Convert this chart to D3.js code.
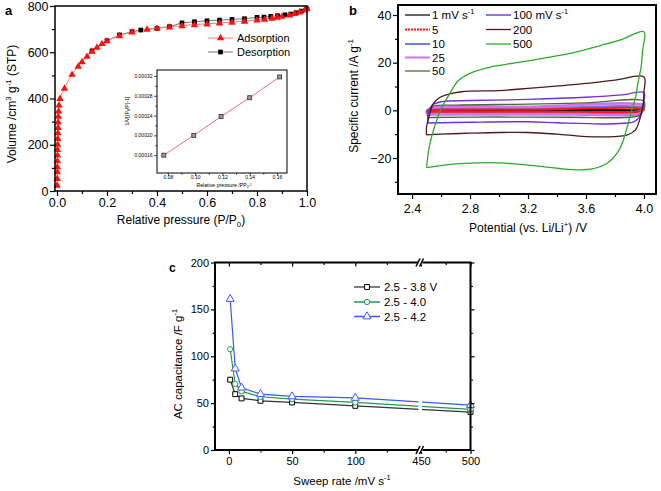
<!DOCTYPE html>
<html><head><meta charset="utf-8">
<script src="https://cdn.jsdelivr.net/npm/d3@7"></script>
<style>body{margin:0;background:#fff} svg{display:block}</style>
</head><body><svg id="c" width="661" height="491"></svg>
<script>
// ---------- Panel a data ----------
const adsP = [0.0005,0.0008,0.001,0.0012,0.0015,0.0018,0.002,0.0025,0.003,0.0035,0.004,0.0045,0.005,0.006,0.008,0.012,0.03,0.06,0.085,0.1,0.12,0.14,0.16,0.18,0.2,0.25,0.3,0.36,0.4,0.45,0.5,0.55,0.6,0.65,0.7,0.75,0.8,0.83,0.86,0.88,0.9,0.93,0.95,0.97,0.99,1.0];
const adsV = [26,55,84,105,131,156,180,203,228,252,275,299,324,347,372,401,445,505,540,560,583,605,622,638,650,672,688,700,705,710,715,720,723,727,730,735,740,743,748,752,756,762,768,775,783,790];
const desP = [1.0,0.978,0.958,0.935,0.912,0.882,0.855,0.828,0.8,0.75,0.7,0.65,0.6,0.55,0.5,0.45,0.4,0.335,0.3,0.25,0.2,0.14];
const desV = [788,778,771,765,762,758,755,752,751,745,742,739,736,732,727,711,703,696,689,675,650,606];
const insetX = [0.077,0.099,0.119,0.140,0.162];
const insetY = [0.000160,0.000200,0.000238,0.000276,0.000318];
const aXTicks = [0,0.2,0.4,0.6,0.8,1.0];
const aYTicks = [0,200,400,600,800];
const insetXTicks = [0.08,0.10,0.12,0.14,0.16];
const insetYTicks = [0.00016,0.00020,0.00024,0.00028,0.00032];

// ---------- Panel b data (potential V, current A/g) ----------
const cvLabels = ["1","5","10","25","50","100","200","500"];
const cv1 = [[2.5,-0.15],[2.51,0.1],[2.6,0.12],[3.2,0.15],[4.0,0.2],[3.99,-0.1],[3.9,-0.15],[3.2,-0.15],[2.5,-0.15]];
const cv5 = [[2.5,-0.6],[2.51,0.1],[2.56,0.3],[3.2,0.35],[4.0,0.5],[3.99,-0.1],[3.95,-0.55],[3.5,-0.6],[2.5,-0.6]];
const cv10 = [[2.5,-0.9],[2.51,0.3],[2.56,0.65],[3.2,0.75],[4.0,1.05],[3.99,0.2],[3.95,-0.8],[3.5,-0.9],[2.5,-0.9]];
const cv25 = [[2.5,-1.7],[2.51,0],[2.56,1.2],[3.2,1.45],[4.0,2.0],[3.995,0.5],[3.96,-1.4],[3.5,-1.7],[2.5,-1.7]];
const cv50 = [[2.51,-3],[2.515,0],[2.55,1.8],[2.7,2.2],[3.2,2.6],[3.6,3.1],[4.0,3.8],[4.0,1],[3.97,-2],[3.9,-2.9],[3.5,-2.9],[3.0,-2.8],[2.51,-3]];
const cv100 = [[2.51,-5.3],[2.51,-1],[2.54,2.2],[2.6,3.6],[2.8,4.1],[3.2,4.6],[3.6,5.5],[3.85,6.5],[4.0,7.5],[4.0,4],[3.995,1.5],[3.97,-2.7],[3.93,-4.8],[3.86,-5.4],[3.7,-5.7],[3.4,-5.2],[3.2,-4.8],[2.8,-5],[2.51,-5.3]];
const cv200 = [[2.5,-10.3],[2.5,-7],[2.52,-2],[2.54,2.2],[2.58,5],[2.63,6.4],[2.74,7.8],[3.0,8.3],[3.2,9.2],[3.6,11.3],[3.8,12.7],[4.0,14],[4.0,8],[3.995,3],[3.97,-4],[3.94,-8.3],[3.88,-10.4],[3.8,-11],[3.6,-11],[3.4,-10],[3.2,-9.3],[3.0,-9.3],[2.8,-9.6],[2.6,-10],[2.5,-10.3]];
const cv500 = [[2.5,-24],[2.52,-15],[2.56,-6],[2.6,0.5],[2.65,6],[2.72,12.5],[2.8,15.5],[2.95,18.3],[3.1,19.8],[3.3,21.8],[3.5,24],[3.7,27.2],[3.85,29.8],[4.0,33],[3.99,25],[3.98,18],[3.96,12],[3.94,5],[3.91,-1],[3.88,-8],[3.83,-16.5],[3.75,-22],[3.65,-24.5],[3.55,-25],[3.4,-24.3],[3.2,-23],[3.0,-22],[2.85,-22],[2.7,-22.5],[2.6,-23.2],[2.5,-24]];
const bXTicks = [2.4,2.8,3.2,3.6,4.0];
const bYTicks = [-20,0,20,40];

// ---------- Panel c data ----------
const rates = [1,5,10,25,50,100,500];
const cap38 = [75,59.6,55,52.5,50.7,47.1,40.5];
const cap40 = [107.5,70.4,62.5,56.8,54.3,50.7,43.3];
const cap42 = [161,86.8,66.4,59.6,57.1,55.5,47.9];
const cLabels = ["2.5 - 3.8 V","2.5 - 4.0","2.5 - 4.2"];
const cXTicks = [0,50,100,450,500];
const cYTicks = [0,50,100,150,200];

const FONT = "'Liberation Sans', Arial, sans-serif";
const svg = d3.select("#c").attr("font-family", FONT);

function styleAxis(ga, fs, sw){
  ga.attr("font-family", FONT).attr("font-size", fs);
  ga.select(".domain").remove();
  ga.selectAll("line").attr("stroke","#000").attr("stroke-width", sw);
  ga.selectAll("text").attr("fill","#000");
}
function axisPair(gen, scale, majors, minors, fmt, size, pad, fs, sw, tr){
  const g1 = svg.append("g").attr("transform", tr)
    .call(gen(scale).tickValues(majors).tickFormat(fmt).tickSize(size).tickSizeOuter(0).tickPadding(pad));
  styleAxis(g1, fs, sw);
  if (minors && minors.length){
    const g2 = svg.append("g").attr("transform", tr)
      .call(gen(scale).tickValues(minors).tickFormat("").tickSize(size*0.6).tickSizeOuter(0));
    styleAxis(g2, fs, sw);
  }
  return g1;
}
function rich(sel, parts, fs){
  parts.forEach(([t, m]) => {
    const ts = sel.append("tspan").text(t);
    if (m === 'sup') ts.attr("font-size", fs*0.65).attr("dy", -fs*0.4);
    else if (m === 'sub') ts.attr("font-size", fs*0.65).attr("dy", fs*0.25);
    else ts.attr("dy", 0);
  });
  let off = 0;
  sel.selectAll("tspan").each(function(){
    const m = d3.select(this);
    const dy = +m.attr("dy");
    if (dy === 0 && off !== 0){ m.attr("dy", -off); off = 0; }
    else off += dy;
  });
}
function frame(x0,y0,x1,y1,w){
  svg.append("rect").attr("x",x0).attr("y",y0).attr("width",x1-x0).attr("height",y1-y0)
    .attr("fill","none").attr("stroke","#000").attr("stroke-width",w);
}
const triSym = d3.symbol().type(d3.symbolTriangle);
const sqSym = d3.symbol().type(d3.symbolSquare);
const cirSym = d3.symbol().type(d3.symbolCircle);

// ================= Panel a =================
{
  const L=55,R=307,T=6,B=191;
  const x = d3.scaleLinear().domain([-0.008,1.0]).range([L,R]);
  const y = d3.scaleLinear().domain([0,800]).range([B,T]);
  const ads = adsP.map((p,i)=>[p,adsV[i]]);
  const des = desP.map((p,i)=>[p,desV[i]]);
  const line = d3.line().x(d=>x(d[0])).y(d=>y(d[1]));
  svg.append("path").attr("d",line(des)).attr("fill","none").attr("stroke","#777").attr("stroke-width",1);
  svg.append("path").attr("d",line(ads)).attr("fill","none").attr("stroke","#ff7a7a").attr("stroke-width",1);
  svg.append("g").selectAll("path").data(des).join("path")
    .attr("d",sqSym.size(22)()).attr("transform",d=>`translate(${x(d[0])},${y(d[1])})`).attr("fill","#000");
  svg.append("g").selectAll("path").data(ads).join("path")
    .attr("d",triSym.size(24)()).attr("transform",d=>`translate(${x(d[0])},${y(d[1])+0.5})`).attr("fill","#ff1010");
  frame(L,T,R,B,1.5);
  axisPair(d3.axisBottom, x, aXTicks, [0.1,0.3,0.5,0.7,0.9], d3.format(".1f"), 5, 2, 12.5, 1.2, `translate(0,${B})`);
  axisPair(d3.axisLeft, y, aYTicks, [100,300,500,700], d3.format("d"), 5, 1.5, 12.5, 1.2, `translate(${L},0)`);
  const xt = svg.append("text").attr("x",181).attr("y",224).attr("text-anchor","middle").attr("font-size",12);
  rich(xt, [["Relative pressure (P/P",null],["0",'sub'],[")",null]], 12);
  const yt = svg.append("text").attr("transform","translate(16,104) rotate(-90)").attr("text-anchor","middle").attr("font-size",12);
  rich(yt, [["Volume /cm",null],["3",'sup'],[" g",null],["-1",'sup'],[" (STP)",null]], 12);
  svg.append("text").attr("x",5).attr("y",15).attr("font-size",13).attr("font-weight","bold").text("a");
  const lg = [["Adsorption",38,"#ff7a7a","#ff1010",triSym],["Desorption",52,"#777","#000",sqSym]];
  lg.forEach(([t,yy,lc,mc,sym])=>{
    svg.append("line").attr("x1",208).attr("x2",233).attr("y1",yy).attr("y2",yy).attr("stroke",lc).attr("stroke-width",1);
    svg.append("path").attr("d",sym.size(sym===triSym?24:22)()).attr("transform",`translate(220.5,${yy})`).attr("fill",mc);
    svg.append("text").attr("x",237).attr("y",yy+4).attr("font-size",11).text(t);
  });
  // inset
  const iL=157,iR=287,iT=70,iB=173;
  const ix = d3.scaleLinear().domain([0.072,0.1674]).range([iL,iR]);
  const iy = d3.scaleLinear().domain([0.000124,0.000332]).range([iB,iT]);
  const ipts = insetX.map((v,i)=>[v,insetY[i]]);
  svg.append("path").attr("d",d3.line().x(d=>ix(d[0])).y(d=>iy(d[1]))(ipts)).attr("fill","none").attr("stroke","#f06a84").attr("stroke-width",1);
  svg.append("g").selectAll("rect").data(ipts).join("rect")
    .attr("x",d=>ix(d[0])-2).attr("y",d=>iy(d[1])-2).attr("width",4).attr("height",4)
    .attr("fill","#999").attr("stroke","#333").attr("stroke-width",0.8);
  frame(iL,iT,iR,iB,1);
  axisPair(d3.axisBottom, ix, insetXTicks, [0.09,0.11,0.13,0.15], d3.format(".2f"), 3, -1, 5, 0.7, `translate(0,${iB})`);
  axisPair(d3.axisLeft, iy, insetYTicks, [0.00018,0.00022,0.00026,0.00030], d3.format(".5f"), 3, 1.5, 5, 0.7, `translate(${iL},0)`);
  const ixt = svg.append("text").attr("x",224).attr("y",186.5).attr("text-anchor","middle").attr("font-size",5.2);
  rich(ixt, [["Relative pressure /PP",null],["0",'sub'],["-1",'sup']], 5.2);
  const iyt = svg.append("text").attr("transform","translate(129,111) rotate(-90)").attr("text-anchor","middle").attr("font-size",5.2);
  rich(iyt, [["1/V[(P",null],["0",'sub'],["/P)-1]",null]], 5.2);
}

// ================= Panel b =================
{
  const L=398,R=656,T=5,B=194;
  const x = d3.scaleLinear().domain([2.303,4.083]).range([L,R]);
  const y = d3.scaleLinear().domain([-35.1,44.2]).range([B,T]);
  const curves = [cv1,cv5,cv10,cv25,cv50,cv100,cv200,cv500];
  const colors = ["#000000","#ff1a1a","#6a80e6","#d070ff","#4f6b2c","#7030dd","#4a1a1a","#2eaa2e"];
  const widths = [1.2,2,2.4,2.6,1.3,1.4,1.3,1.3];
  const line = d3.line().x(d=>x(d[0])).y(d=>y(d[1])).curve(d3.curveCatmullRom.alpha(0.5));
  const order = [0,2,3,1,4,5,6,7];
  order.forEach(i=>{
    svg.append("path").attr("d",line(curves[i])).attr("fill","none").attr("stroke",colors[i]).attr("stroke-width",widths[i]);
  });
  frame(L,T,R,B,2);
  axisPair(d3.axisBottom, x, bXTicks, [2.6,3.0,3.4,3.8], d3.format(".1f"), 5, 5, 12.5, 1.2, `translate(0,${B})`);
  axisPair(d3.axisLeft, y, bYTicks, [-30,-10,10,30], d3.format("d"), 5, 1.5, 12.5, 1.2, `translate(${L},0)`);
  const xt = svg.append("text").attr("x",528).attr("y",232).attr("text-anchor","middle").attr("font-size",12);
  rich(xt, [["Potential (vs. Li/Li",null],["+",'sup'],[") /V",null]], 12);
  const yt = svg.append("text").attr("transform","translate(358,96) rotate(-90)").attr("text-anchor","middle").attr("font-size",12);
  rich(yt, [["Specific current /A g",null],["-1",'sup']], 12);
  svg.append("text").attr("x",349).attr("y",15).attr("font-size",13).attr("font-weight","bold").text("b");
  const pos = [[405,15],[405,29.5],[405,44],[405,57.5],[405,71],[486,15],[486,29.5],[486,44]];
  cvLabels.forEach((lab,i)=>{
    const [lx,ly] = pos[i];
    svg.append("line").attr("x1",lx).attr("x2",lx+25).attr("y1",ly).attr("y2",ly)
      .attr("stroke",colors[i]).attr("stroke-width",Math.min(widths[i],2))
      .attr("stroke-dasharray", i===1 ? "2,1" : null);
    const t = svg.append("text").attr("x",lx+27).attr("y",ly+4).attr("font-size",11.5);
    if (i===0 || i===5) rich(t, [[lab+" mV s",null],["-1",'sup']], 11.5);
    else t.text(lab);
  });
}

// ================= Panel c =================
{
  const L=215,R=470.5,T=262.5,B=450;
  const x = d3.scaleLinear().domain([-11,150,450,500]).range([L,418.5,421,R]);
  const y = d3.scaleLinear().domain([0,200]).range([B,T]);
  const series = [cap38,cap40,cap42];
  const lcol = ["#333333","#1f9a50","#3a5af0"];
  const mcol = ["#000000","#1f9a50","#3a5af0"];
  const syms = [sqSym.size(24), cirSym.size(22), triSym.size(28)];
  const line = d3.line().x(d=>x(d[0])).y(d=>y(d[1]));
  series.forEach((s,k)=>{
    const pts = rates.map((r,i)=>[r,s[i]]);
    svg.append("path").attr("d",line(pts)).attr("fill","none").attr("stroke",lcol[k]).attr("stroke-width",1.2);
  });
  svg.append("rect").attr("x",418.5).attr("y",T+2).attr("width",3.5).attr("height",B-T-4).attr("fill","#fff");
  series.forEach((s,k)=>{
    const pts = rates.map((r,i)=>[r,s[i]]);
    svg.append("g").selectAll("path").data(pts).join("path")
      .attr("d",syms[k]()).attr("transform",d=>`translate(${x(d[0])},${y(d[1])})`)
      .attr("fill","#fff").attr("stroke",mcol[k]).attr("stroke-width",1);
  });
  frame(L,T,R,B,2);
  axisPair(d3.axisBottom, x, cXTicks, [25,75,125,475], d3.format("d"), 4, 3, 11, 1.2, `translate(0,${B})`);
  axisPair(d3.axisLeft, y, cYTicks, [25,75,125,175], d3.format("d"), 4, 2, 11, 1.2, `translate(${L},0)`);
  axisPair(d3.axisBottom, x, cXTicks, [25,75,125,475], ()=>"", 4, 0, 11, 1.2, `translate(0,${T})`);
  axisPair(d3.axisLeft, y, cYTicks, [25,75,125,175], ()=>"", -4, 0, 11, 1.2, `translate(${R},0)`);
  [T,B].forEach(yy=>{
    svg.append("rect").attr("x",418).attr("y",yy-2).attr("width",4.5).attr("height",4).attr("fill","#fff");
    [417.5,421].forEach(xx=>{
      svg.append("line").attr("x1",xx-1.5).attr("y1",yy+4).attr("x2",xx+2.5).attr("y2",yy-4)
        .attr("stroke","#000").attr("stroke-width",1.5);
    });
  });
  const xt = svg.append("text").attr("x",342).attr("y",485).attr("text-anchor","middle").attr("font-size",11.5);
  rich(xt, [["Sweep rate /mV s",null],["-1",'sup']], 11.5);
  const yt = svg.append("text").attr("transform","translate(182,364) rotate(-90)").attr("text-anchor","middle").attr("font-size",11.5);
  rich(yt, [["AC capacitance /F g",null],["-1",'sup']], 11.5);
  svg.append("text").attr("x",169).attr("y",272).attr("font-size",12).attr("font-weight","bold").text("c");
  const ly = [287,302,316.5];
  cLabels.forEach((lab,k)=>{
    svg.append("line").attr("x1",354).attr("x2",380).attr("y1",ly[k]).attr("y2",ly[k]).attr("stroke",k===0?"#555":lcol[k]).attr("stroke-width",1.5);
    svg.append("path").attr("d",syms[k]()).attr("transform",`translate(367,${ly[k]})`).attr("fill","#fff").attr("stroke",mcol[k]).attr("stroke-width",1);
    svg.append("text").attr("x",384).attr("y",ly[k]+4).attr("font-size",11.5).text(lab);
  });
}
</script></body></html>
